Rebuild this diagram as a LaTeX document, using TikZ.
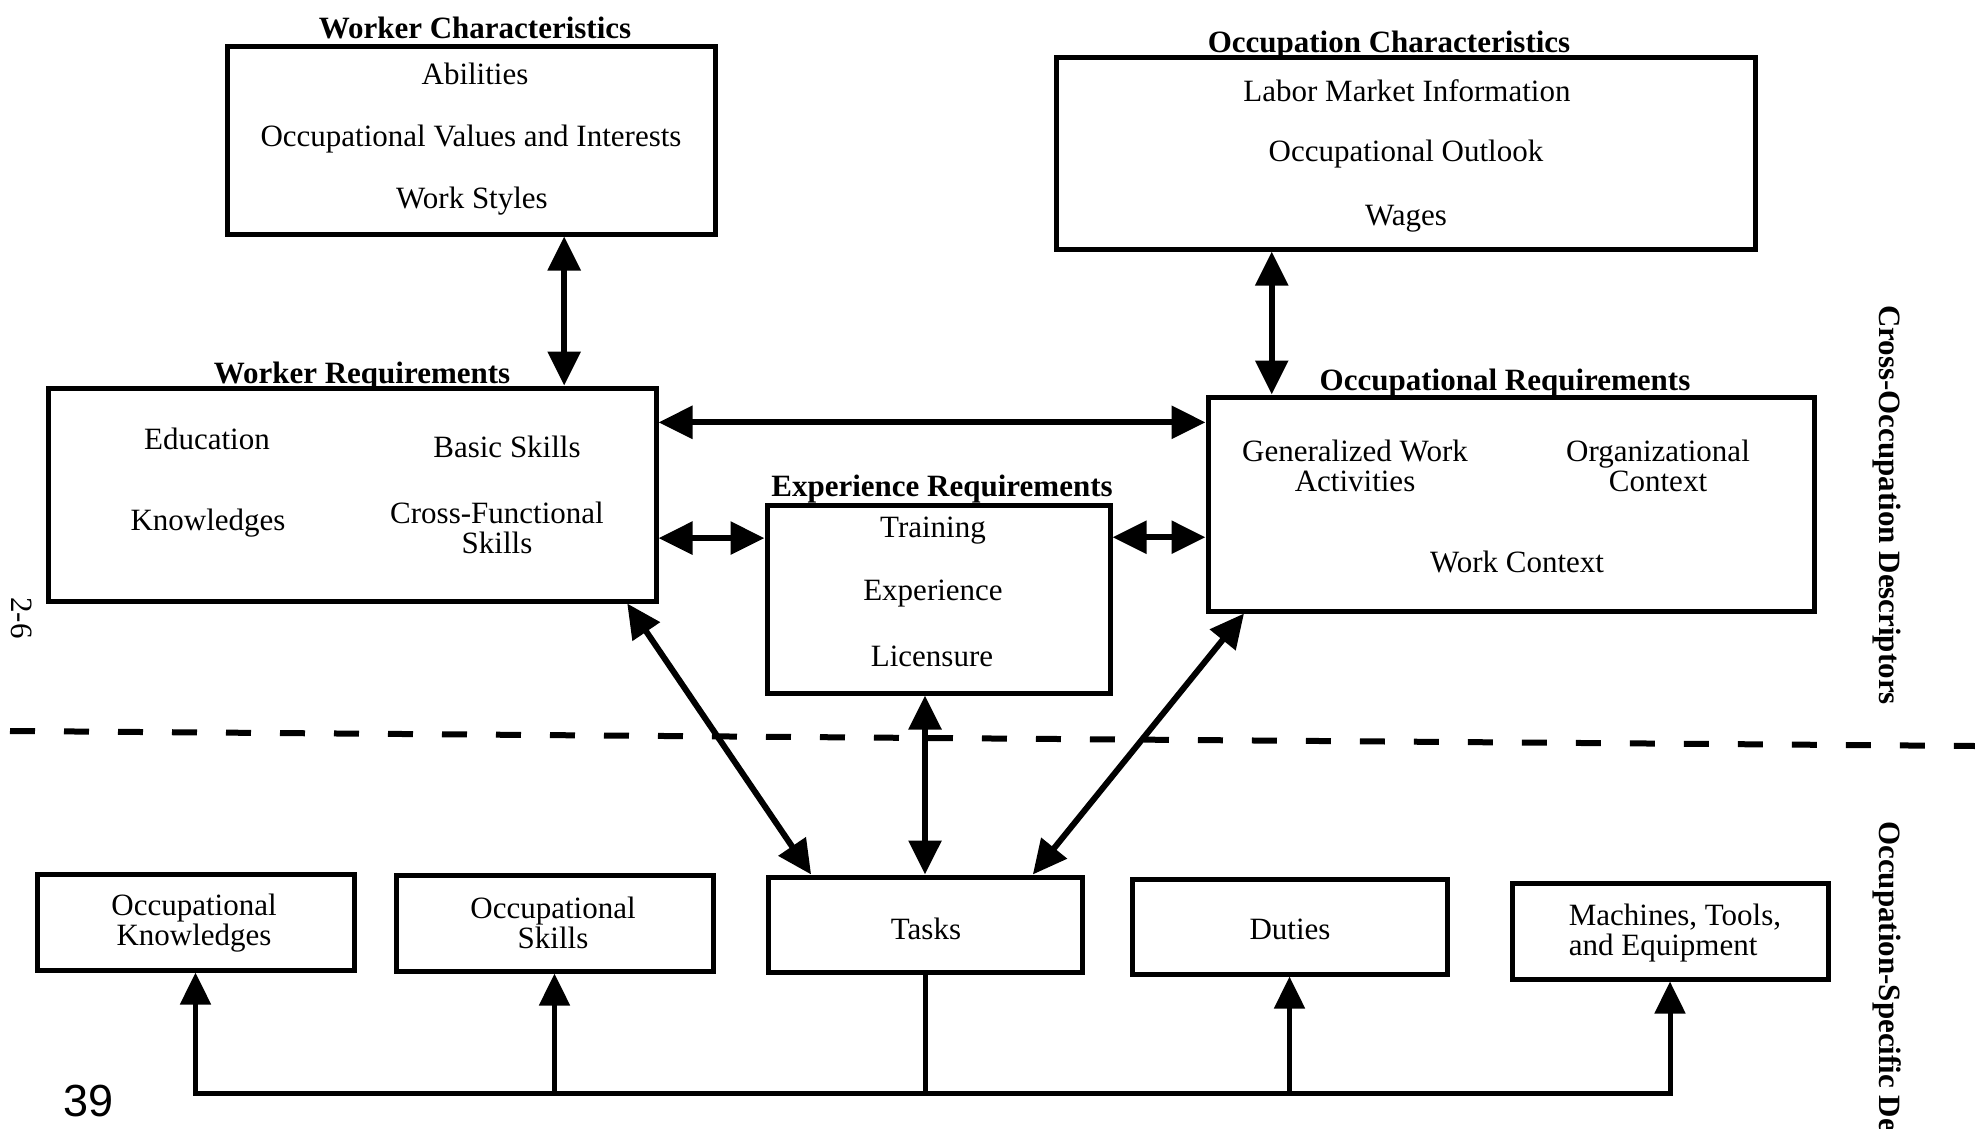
\documentclass[tikz,border=0pt]{standalone}
\usepackage{fontspec}
\setmainfont{Liberation Serif}
\newfontfamily\pagenofont{Liberation Sans}
\usetikzlibrary{arrows.meta,calc}

\begin{document}
\begin{tikzpicture}[x=1pt,y=-1pt,
  frame/.style={draw, line width=5pt, inner sep=0pt},
  lbl/.style={font=\fontsize{31}{30}\selectfont, align=center, inner sep=0pt},
  ttl/.style={font=\bfseries\fontsize{31}{30}\selectfont, inner sep=0pt, anchor=base},
  link/.style={line width=6pt, {Triangle[length=34pt,width=32pt]}-{Triangle[length=34pt,width=32pt]}},
  feed/.style={line width=5pt, line join=miter, -{Triangle[length=32pt,width=30pt]}},
  busline/.style={line width=5pt},
  divider/.style={line width=6pt, dash pattern=on 25pt off 29pt}]

\useasboundingbox[fill=white] (0,0) rectangle (1975,1129);

% ---- boxes ----
\node[frame, minimum width=488pt, minimum height=187pt] (wchar) at (471,140.5) {};
\node[frame, minimum width=699pt, minimum height=191pt] (ochar) at (1405.5,153.5) {};
\node[frame, minimum width=608pt, minimum height=213pt] (wreq) at (352,494.5) {};
\node[frame, minimum width=606pt, minimum height=214pt] (oreq) at (1511,504) {};
\node[frame, minimum width=343pt, minimum height=188pt] (ereq) at (938.5,599) {};
\node[frame, minimum width=317pt, minimum height=96pt] (oknow) at (195.5,922) {};
\node[frame, minimum width=317pt, minimum height=96pt] (oskill) at (554.5,923) {};
\node[frame, minimum width=314pt, minimum height=95pt] (tasks) at (925,924.5) {};
\node[frame, minimum width=315pt, minimum height=95pt] (duties) at (1289.5,926.5) {};
\node[frame, minimum width=316pt, minimum height=96pt] (mte) at (1670,931) {};

% ---- titles ----
\node[ttl] (wchart) at (475,39) {Worker Characteristics};
\node[ttl] (ochart) at (1389,53) {Occupation Characteristics};
\node[ttl] (wreqt) at (362,383) {Worker Requirements};
\node[ttl] (oreqt) at (1505,390) {Occupational Requirements};
\node[ttl] (ereqt) at (942,496) {Experience Requirements};

% ---- box contents ----
\node[lbl] (abil) at (475,74) {Abilities};
\node[lbl] (ovi) at (471,139) {Occupational Values and Interests};
\node[lbl] (wstyle) at (472,201) {Work Styles};

\node[lbl] (lmi) at (1407,91) {Labor Market Information};
\node[lbl] (outlook) at (1406,154) {Occupational Outlook};
\node[lbl] (wages) at (1406,219) {Wages};

\node[lbl] (educ) at (207,439) {Education};
\node[lbl] (basic) at (507,447) {Basic Skills};
\node[lbl] (knowl) at (208,523) {Knowledges};
\node[lbl] (xfunc) at (497,528) {Cross-Functional\\Skills};

\node[lbl] (train) at (933,531) {Training};
\node[lbl] (exper) at (933,594) {Experience};
\node[lbl] (licen) at (932,656) {Licensure};

\node[lbl] (gwa) at (1355,466) {Generalized Work\\Activities};
\node[lbl] (orgc) at (1658,466) {Organizational\\Context};
\node[lbl] (wctx) at (1517,562) {Work Context};

\node[lbl] (oknowt) at (194,923) {Occupational\\Knowledges};
\node[lbl] (oskillt) at (553,923) {Occupational\\Skills};
\node[lbl] (taskst) at (926,929) {Tasks};
\node[lbl] (dutiest) at (1290,929) {Duties};
\node[lbl, align=left] (mtet) at (1675,933) {Machines, Tools,\\and Equipment};

% ---- side and page labels ----
\node[ttl, rotate=-90, anchor=center] (crossocc) at (1887,505) {Cross-Occupation Descriptors};
\begin{scope}
  \clip (0,0) rectangle (1975,1129);
  \node[ttl, rotate=-90, anchor=west] (occspec) at (1887,821) {Occupation-Specific De};
\end{scope}
\node[lbl, rotate=-90] (pageref) at (22,618) {2-6};
\node[inner sep=0pt, font=\pagenofont\fontsize{45}{45}\selectfont] (pgno) at (89,1101) {39};

% ---- divider between the two descriptor groups ----
\draw[divider] (10,731) -- (1975,746);

% ---- two-way links ----
\coordinate (wcwr) at ($(wchar.south west)!0.689!(wchar.south east)$);
\draw[link] (wcwr) -- (wcwr |- wreq.north);
\coordinate (ocor) at ($(ochar.south west)!0.31!(ochar.south east)$);
\draw[link] (ocor) -- (ocor |- oreq.north);

\coordinate (wo) at ($(wreq.north east)!0.169!(wreq.south east)$);
\draw[link] (wo) -- (wo -| oreq.west);
\coordinate (we) at ($(wreq.north east)!0.70!(wreq.south east)$);
\draw[link] (we) -- (we -| ereq.west);
\coordinate (eo) at ($(ereq.north east)!0.18!(ereq.south east)$);
\draw[link] (eo) -- (eo -| oreq.west);

\draw[link] ($(wreq.south west)!0.949!(wreq.south east)$) -- ($(tasks.north west)!0.143!(tasks.north east)$);
\draw[link] (tasks.north) -- (tasks.north |- ereq.south);
\draw[link] ($(oreq.south west)!0.063!(oreq.south east)$) -- ($(tasks.north west)!0.838!(tasks.north east)$);

% ---- tasks feed the occupation-specific descriptors ----
\coordinate (bus) at (0,1093);
\draw[busline] (tasks.south) -- (tasks.south |- bus);
\draw[busline] (oskill.south |- bus) -- (duties.south |- bus);
\draw[feed] (oskill.south |- bus) -- (oknow.south |- bus) -- (oknow.south);
\draw[feed] (oskill.south |- bus) -- (oskill.south);
\draw[feed] (duties.south |- bus) -- (duties.south);
\draw[feed] (duties.south |- bus) -- (mte.south |- bus) -- (mte.south);

\end{tikzpicture}
\end{document}
